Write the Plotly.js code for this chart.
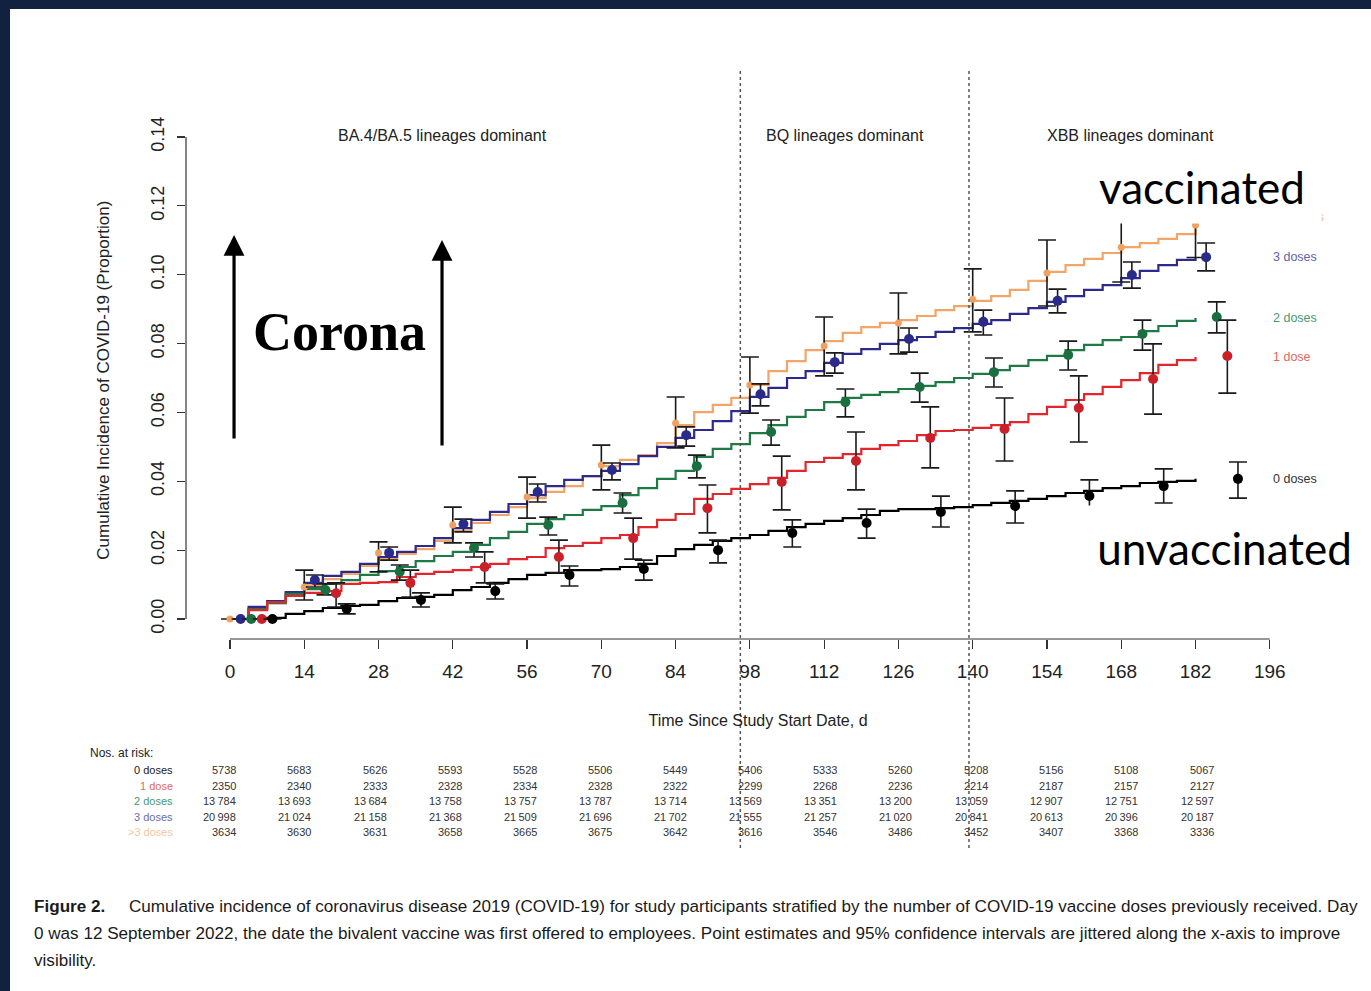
<!DOCTYPE html>
<html>
<head>
<meta charset="utf-8">
<script src="https://cdn.plot.ly/plotly-3.0.1.min.js"></script>
<style>
  html, body { margin: 0; padding: 0; background: #10223f; width: 1371px; height: 991px; overflow: hidden; }
  #chart { position: absolute; left: 10px; top: 9px; width: 1361px; height: 982px; background: #fff; }
</style>
</head>
<body>
<div id="chart"></div>
<script>
// ---------------- DATA ----------------
const groupNames = ['>3 doses', '3 doses', '2 doses', '1 dose', '0 doses'];

// Step-curve sample days (every 3.5 days, 0..182)
const stepDays = [];
for (let d = 0; d <= 182; d += 3.5) stepDays.push(d);

// Cumulative incidence curves
const curveMore3 = [0, 0.0029, 0.0046, 0.0073, 0.0099, 0.0116, 0.0131, 0.0154, 0.0174, 0.0189, 0.0203, 0.0227, 0.0256, 0.0279, 0.0302, 0.0325, 0.0351, 0.0369, 0.0386, 0.0415, 0.0444, 0.0462, 0.0476, 0.0511, 0.0563, 0.0601, 0.0622, 0.0642, 0.068, 0.072, 0.0749, 0.0781, 0.0807, 0.0831, 0.0848, 0.086, 0.0868, 0.088, 0.0897, 0.0909, 0.0924, 0.0938, 0.0956, 0.0982, 0.1008, 0.1028, 0.1046, 0.1063, 0.108, 0.1092, 0.1104, 0.1118, 0.1141];
const curve3 = [0, 0.0035, 0.0052, 0.0078, 0.0105, 0.0125, 0.0137, 0.016, 0.018, 0.0195, 0.0212, 0.0235, 0.0264, 0.0288, 0.0311, 0.0334, 0.036, 0.0386, 0.0404, 0.0415, 0.043, 0.045, 0.0473, 0.05, 0.0526, 0.0549, 0.0575, 0.0604, 0.0645, 0.0671, 0.07, 0.072, 0.0744, 0.077, 0.0784, 0.0799, 0.081, 0.0819, 0.0834, 0.0845, 0.0857, 0.0868, 0.0886, 0.0903, 0.0921, 0.0938, 0.0956, 0.097, 0.099, 0.1011, 0.1028, 0.1043, 0.1051];
const curve2 = [0, 0.0029, 0.0046, 0.0073, 0.0087, 0.0102, 0.0113, 0.0128, 0.0139, 0.0151, 0.0168, 0.0183, 0.0195, 0.0215, 0.0235, 0.0253, 0.0276, 0.029, 0.0302, 0.0317, 0.0328, 0.036, 0.038, 0.0407, 0.043, 0.0471, 0.0494, 0.0508, 0.054, 0.0563, 0.0587, 0.0607, 0.063, 0.0642, 0.0651, 0.0659, 0.0668, 0.0677, 0.0688, 0.07, 0.0712, 0.0723, 0.0735, 0.0752, 0.0764, 0.0781, 0.0796, 0.081, 0.0819, 0.0836, 0.0851, 0.0866, 0.0874];
const curve1 = [0, 0.0026, 0.0049, 0.0067, 0.0076, 0.0081, 0.0102, 0.0105, 0.0107, 0.0122, 0.0131, 0.0137, 0.0142, 0.0151, 0.016, 0.0174, 0.018, 0.0206, 0.0212, 0.0221, 0.0235, 0.0244, 0.0267, 0.0288, 0.0305, 0.0349, 0.0363, 0.0378, 0.0392, 0.041, 0.043, 0.0456, 0.0468, 0.0479, 0.0494, 0.0505, 0.0517, 0.0534, 0.0546, 0.0549, 0.0555, 0.0563, 0.0572, 0.0595, 0.0616, 0.0636, 0.0653, 0.0674, 0.0694, 0.0714, 0.0738, 0.0752, 0.0761];
const curve0 = [0, 0, 0.0003, 0.0015, 0.0023, 0.0032, 0.0038, 0.0041, 0.0052, 0.0061, 0.0064, 0.007, 0.0084, 0.0093, 0.0105, 0.0116, 0.0128, 0.0134, 0.0142, 0.0142, 0.0145, 0.0151, 0.016, 0.0183, 0.0203, 0.0215, 0.0227, 0.0235, 0.0244, 0.0256, 0.0267, 0.0276, 0.0285, 0.0293, 0.0302, 0.0314, 0.0319, 0.0319, 0.0322, 0.0325, 0.0331, 0.0337, 0.0343, 0.0349, 0.0357, 0.0366, 0.0372, 0.038, 0.0386, 0.0395, 0.0398, 0.0401, 0.0407];

// Point estimates and 95% CIs every 14 days (jittered on x per group)
const pointDays = [0, 14, 28, 42, 56, 70, 84, 98, 112, 126, 140, 154, 168, 182];
const jitterDays = [0, 2, 4, 6, 8];

const estMore3 = [0, 0.0093, 0.0192, 0.0273, 0.0354, 0.0447, 0.0569, 0.068, 0.0793, 0.086, 0.0929, 0.1005, 0.108, 0.1144];
const loMore3  = [0, 0.0055, 0.0137, 0.0221, 0.0293, 0.0375, 0.0497, 0.0598, 0.0706, 0.077, 0.0834, 0.0909, 0.0979, 0.105];
const hiMore3  = [0, 0.0142, 0.0224, 0.0325, 0.0412, 0.0505, 0.0645, 0.0761, 0.0877, 0.0947, 0.1017, 0.1101, 0.119, 0.125];

const est3 = [0, 0.0113, 0.0192, 0.0276, 0.0369, 0.0433, 0.0534, 0.0653, 0.0746, 0.0813, 0.0863, 0.0924, 0.0999, 0.1051];
const lo3  = [0, 0.0093, 0.0171, 0.0253, 0.034, 0.0404, 0.0502, 0.0619, 0.0714, 0.0775, 0.0825, 0.0889, 0.0961, 0.1011];
const hi3  = [0, 0.0128, 0.0209, 0.029, 0.0392, 0.0453, 0.0558, 0.0683, 0.0773, 0.0845, 0.0897, 0.0958, 0.1037, 0.1092];

const est2 = [0, 0.0084, 0.0137, 0.0206, 0.0273, 0.0337, 0.0444, 0.0543, 0.063, 0.0674, 0.0717, 0.0767, 0.0828, 0.0877];
const lo2  = [0, 0.007, 0.0113, 0.018, 0.0244, 0.0308, 0.041, 0.0505, 0.0587, 0.063, 0.0674, 0.0723, 0.0781, 0.0831];
const hi2  = [0, 0.0102, 0.0157, 0.0221, 0.0296, 0.0366, 0.0476, 0.0578, 0.0668, 0.0714, 0.0758, 0.0807, 0.0868, 0.0921];

const est1 = [0, 0.0075, 0.0105, 0.0151, 0.018, 0.0235, 0.0322, 0.0398, 0.0459, 0.0526, 0.0552, 0.0613, 0.0697, 0.0764];
const lo1  = [0, 0.0035, 0.0064, 0.0105, 0.0134, 0.0174, 0.025, 0.0317, 0.0375, 0.0439, 0.0459, 0.0514, 0.0595, 0.0656];
const hi1  = [0, 0.0105, 0.0142, 0.0195, 0.0229, 0.0293, 0.0389, 0.0473, 0.0543, 0.0616, 0.0642, 0.0706, 0.0799, 0.0868];

const est0 = [0, 0.0029, 0.0055, 0.0081, 0.0128, 0.0145, 0.02, 0.025, 0.0279, 0.0311, 0.0328, 0.0357, 0.0386, 0.0407];
const lo0  = [0, 0.0015, 0.0035, 0.0058, 0.0096, 0.0113, 0.0163, 0.0209, 0.0235, 0.0267, 0.0279, 0.0317, 0.0337, 0.0351];
const hi0  = [0, 0.0044, 0.0076, 0.0102, 0.0154, 0.0171, 0.0229, 0.0288, 0.0319, 0.0357, 0.0372, 0.0404, 0.0436, 0.0456];

// Numbers at risk
const riskLabels = ['0 doses', '1 dose', '2 doses', '3 doses', '>3 doses'];
const risk0 = [5738, 5683, 5626, 5593, 5528, 5506, 5449, 5406, 5333, 5260, 5208, 5156, 5108, 5067];
const risk1 = [2350, 2340, 2333, 2328, 2334, 2328, 2322, 2299, 2268, 2236, 2214, 2187, 2157, 2127];
const risk2 = [13784, 13693, 13684, 13758, 13757, 13787, 13714, 13569, 13351, 13200, 13059, 12907, 12751, 12597];
const risk3 = [20998, 21024, 21158, 21368, 21509, 21696, 21702, 21555, 21257, 21020, 20841, 20613, 20396, 20187];
const risk4 = [3634, 3630, 3631, 3658, 3665, 3675, 3642, 3616, 3546, 3486, 3452, 3407, 3368, 3336];

// Period boundaries (days) and labels
const periodBounds = [96.2, 139.3];
const periodLabels = ['BA.4/BA.5 lineages dominant', 'BQ lineages dominant', 'XBB lineages dominant'];
const periodLabelDays = [40, 115.9, 169.8];

const xTicks = [0, 14, 28, 42, 56, 70, 84, 98, 112, 126, 140, 154, 168, 182, 196];
const yTicks = [0, 0.02, 0.04, 0.06, 0.08, 0.10, 0.12, 0.14];

const captionLines = [
  '<b>Figure 2.</b>\u00A0\u00A0\u00A0\u00A0\u00A0Cumulative incidence of coronavirus disease 2019 (COVID-19) for study participants stratified by the number of COVID-19 vaccine doses previously received. Day',
  '0 was 12 September 2022, the date the bivalent vaccine was first offered to employees. Point estimates and 95% confidence intervals are jittered along the x-axis to improve',
  'visibility.'
];

// ---------------- STYLE ----------------
const FONT = 'Liberation Sans, Arial, Helvetica, sans-serif';
const lineColors = ['#f3a468', '#2c2a8c', '#1d7a45', '#e2262b', '#000000'];
const dotColors  = ['#f0a060', '#2a2a8a', '#1a6e40', '#c9202a', '#000000'];
const labelColors = ['#f2b98e', '#6262a8', '#4a9a6e', '#e2685e', '#333333'];
const riskColors = ['#222222', '#e2685e', '#4a9a6e', '#6b6bb0', '#f5c7a0'];

const curves = [curveMore3, curve3, curve2, curve1, curve0];
const ests = [estMore3, est3, est2, est1, est0];
const los = [loMore3, lo3, lo2, lo1, lo0];
const his = [hiMore3, hi3, hi2, hi1, hi0];

const traces = [];
curves.forEach((c, g) => {
  traces.push({
    type: 'scatter', mode: 'lines', name: groupNames[g],
    x: stepDays, y: c,
    line: { color: lineColors[g], width: 2.2, shape: 'hv' },
    hoverinfo: 'skip'
  });
});
ests.forEach((e, g) => {
  traces.push({
    type: 'scatter', mode: 'markers', name: groupNames[g] + ' estimate',
    x: pointDays.map(d => d + jitterDays[g]), y: e,
    marker: { color: dotColors[g], size: g === 0 ? 7 : 10 },
    error_y: {
      type: 'data', symmetric: false,
      array: his[g].map((h, i) => h - e[i]),
      arrayminus: e.map((v, i) => v - los[g][i]),
      color: '#1a1a1a', thickness: 1.6, width: 9
    },
    cliponaxis: false
  });
});

// ---------------- LAYOUT ----------------
// Plot area spans page y 60..860 so dotted lines & risk table can share the data x scale.
const X_AXIS_POS = 0.27625;

const annotations = [];
const txt = (o) => Object.assign({ showarrow: false, xanchor: 'center', yanchor: 'middle' }, o);

// Period headings
periodLabels.forEach((t, i) => {
  annotations.push(txt({ text: t, xref: 'x', yref: 'paper', x: periodLabelDays[i], y: 0.905,
    font: { family: FONT, size: 16, color: '#222' } }));
});
// Y axis title
annotations.push(txt({ text: 'Cumulative Incidence of COVID-19 (Proportion)', xref: 'paper', yref: 'y',
  x: -0.0717, y: 0.0695, textangle: -90, font: { family: FONT, size: 17, color: '#222' } }));

// Right-hand group labels at the curve ends
curves.forEach((c, g) => {
  annotations.push(txt({ text: groupNames[g], xref: 'x', yref: 'y', x: 196.2, y: c[c.length - 1],
    xanchor: 'left', yshift: g === 0 ? 9 : 0, font: { family: FONT, size: 12.5, color: labelColors[g] } }));
});

// Numbers-at-risk table
annotations.push(txt({ text: 'Nos. at risk:', xref: 'paper', yref: 'paper', x: -0.0857, y: 0.134,
  xanchor: 'left', font: { family: FONT, size: 12, color: '#222' } }));
const rowY = [0.1125, 0.0925, 0.07375, 0.05375, 0.035];
const risks = [risk0, risk1, risk2, risk3, risk4];
const fmt = n => n >= 10000 ? String(n).replace(/(\d+)(\d{3})$/, '$1\u2009$2') : String(n);
risks.forEach((r, row) => {
  annotations.push(txt({ text: riskLabels[row], xref: 'paper', yref: 'paper', x: -0.0096, y: rowY[row],
    xanchor: 'right', font: { family: FONT, size: 11, color: riskColors[row] } }));
  r.forEach((n, k) => {
    annotations.push(txt({ text: fmt(n), xref: 'x', yref: 'paper', x: pointDays[k], y: rowY[row],
      xanchor: 'right', xshift: 8 + Math.round(k * 0.9),
      font: { family: FONT, size: 11, color: '#333' } }));
  });
});

// Overlay: arrows, "Corona"
annotations.push({ text: '', xref: 'paper', yref: 'paper', x: 0.042, y: 0.78125, ax: 0, ay: 205,
  showarrow: true, arrowhead: 2, arrowsize: 1.3, arrowwidth: 3.2, arrowcolor: '#000' });
annotations.push({ text: '', xref: 'paper', yref: 'paper', x: 0.2238, y: 0.775, ax: 0, ay: 207,
  showarrow: true, arrowhead: 2, arrowsize: 1.3, arrowwidth: 3.2, arrowcolor: '#000' });
annotations.push(txt({ text: '<b>Corona</b>', xref: 'paper', yref: 'paper', x: 0.1346, y: 0.66,
  font: { family: 'Liberation Serif, Times New Roman, serif', size: 54, color: '#000' } }));

// Overlay: "vaccinated" / "unvaccinated" in white boxes
annotations.push(txt({ text: 'vaccinated', xref: 'paper', yref: 'paper', x: 0.8885, y: 0.8419,
  bgcolor: '#ffffff', width: 234, height: 69, borderpad: 2,
  font: { family: 'Lato, Open Sans, sans-serif', size: 44, color: '#000' } }));
annotations.push(txt({ text: 'unvaccinated', xref: 'paper', yref: 'paper', x: 0.9082, y: 0.39,
  bgcolor: '#ffffff', width: 287, height: 80, borderpad: 2,
  font: { family: 'Lato, Open Sans, sans-serif', size: 44, color: '#000' } }));

// Figure caption (three lines)
const captionY = [-0.0575, -0.09125, -0.125];
captionLines.forEach((t, i) => {
  annotations.push(txt({ text: t, xref: 'paper', yref: 'paper', x: -0.1346, y: captionY[i],
    xanchor: 'left', align: 'left', font: { family: FONT, size: 17.1, color: '#1a1a1a' } }));
});

const shapes = [
  { type: 'line', xref: 'paper', yref: 'y', x0: 0, x1: 0, y0: 0, y1: 0.14, line: { color: '#333', width: 1.2 } },
  { type: 'line', xref: 'x', yref: 'paper', x0: 0, x1: 196, y0: X_AXIS_POS, y1: X_AXIS_POS, line: { color: '#333', width: 1.2 } }
];
periodBounds.forEach(b => {
  shapes.push({ type: 'line', xref: 'x', yref: 'paper', x0: b, x1: b, y0: 0.015, y1: 0.99,
    line: { color: '#555', width: 1.5, dash: 'dot' } });
});

const layout = {
  width: 1361, height: 982,
  margin: { l: 176, r: 41, t: 51, b: 131 },
  paper_bgcolor: '#ffffff', plot_bgcolor: '#ffffff',
  showlegend: false,
  font: { family: FONT, color: '#222' },
  xaxis: {
    range: [-8.294, 207.35], tickvals: xTicks, ticks: 'outside', ticklen: 9, tickwidth: 1.2, tickcolor: '#333',
    showline: false, showgrid: false, zeroline: false, anchor: 'free', position: X_AXIS_POS,
    tickfont: { family: FONT, size: 19, color: '#222' }, ticklabelstandoff: 6,
    title: { text: 'Time Since Study Start Date, d', font: { family: FONT, size: 16, color: '#222' }, standoff: 34 }
  },
  yaxis: {
    range: [-0.07, 0.16236], tickvals: yTicks, ticktext: yTicks.map(v => v.toFixed(2)),
    ticks: 'outside', ticklen: 8, tickwidth: 1.2, tickcolor: '#333', tickangle: -90,
    showline: false, showgrid: false, zeroline: false,
    tickfont: { family: FONT, size: 18, color: '#222' }, ticklabelstandoff: 6
  },
  shapes: shapes,
  annotations: annotations
};

Plotly.newPlot('chart', traces, layout, { displayModeBar: false, staticPlot: true });
</script>
</body>
</html>
